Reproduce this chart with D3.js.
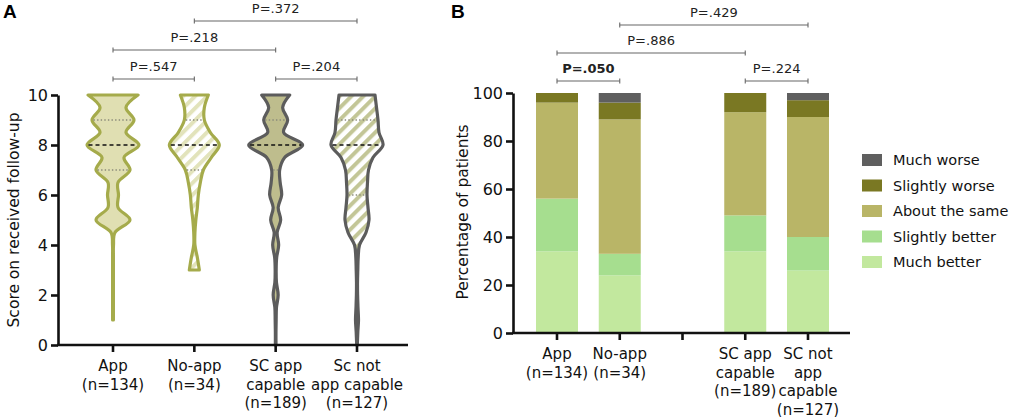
<!DOCTYPE html>
<html>
<head>
<meta charset="utf-8">
<script src="https://cdn.jsdelivr.net/npm/d3@7"></script>
<style>
  body { margin: 0; background: #fff; }
  svg { font-family: "DejaVu Sans", Verdana, sans-serif; }
</style>
</head>
<body>
<script>
// ---- data: panel A (violins) ----
var violinGroups = ["App", "No-app", "SC app capable", "Sc not app capable"];
var violinLabels = [["App", "(n=134)"], ["No-app", "(n=34)"], ["SC app", "capable", "(n=189)"], ["Sc not", "app capable", "(n=127)"]];
var scores = [0, 0.5, 1, 1.5, 2, 2.5, 3, 3.5, 4, 4.5, 5, 5.5, 6, 6.5, 7, 7.5, 8, 8.5, 9, 9.5, 10];
// half-width (relative density) of each violin at each score
var densApp    = [null, null, 0.4, 0.4, 0.4, 0.4, 0.4, 0.4, 0.5, 2, 17, 5, 5.5, 5, 17, 11, 26, 13, 21, 13, 25];
var densNoApp  = [null, null, null, null, null, null, 5, 3, 0.6, 0.6, 1.5, 3, 4, 6, 9, 17, 25, 16, 10, 10, 14];
var densScApp  = [0.3, 0.3, 0.5, 0.8, 2.5, 0.8, 0.5, 1, 3, 1.5, 5, 2.5, 6, 4.5, 4, 9, 27, 8, 12, 7, 14];
var densScNot  = [0.3, 0.8, 1.5, 1, 0.6, 0.5, 0.8, 1.2, 2.5, 9, 12, 11, 10, 10.5, 11.5, 16, 26, 22, 21, 19.5, 18];
var medians    = [8, 8, 8, 8];
var quartLow   = [7, 7, 7, 6];
var quartHigh  = [9, 9, 9, 9];
var scoreTicks = [0, 2, 4, 6, 8, 10];
var pairsA = [["App", "No-app", "P=.547", 0], ["SC app capable", "Sc not app capable", "P=.204", 0],
              ["App", "SC app capable", "P=.218", 1], ["No-app", "Sc not app capable", "P=.372", 2]];

// ---- data: panel B (stacked bars) ----
var barGroups = ["App", "No-app", "", "SC app capable", "SC not app capable"];
var barLabels = [["App", "(n=134)"], ["No-app", "(n=34)"], [], ["SC app", "capable", "(n=189)"], ["SC not", "app", "capable", "(n=127)"]];
var responses = ["Much better", "Slightly better", "About the same", "Slightly worse", "Much worse"];
var muchBetter     = [34, 24, 0, 34, 26];
var slightlyBetter = [22, 9, 0, 15, 14];
var aboutSame      = [40, 56, 0, 43, 50];
var slightlyWorse  = [4, 7, 0, 8, 7];
var muchWorse      = [0, 4, 0, 0, 3];
var pctTicks = [0, 20, 40, 60, 80, 100];
var pairsB = [["App", "No-app", "P=.050", 0, true], ["SC app capable", "SC not app capable", "P=.224", 0, false],
              ["App", "SC app capable", "P=.886", 1, false], ["No-app", "SC not app capable", "P=.429", 2, false]];

var svg = d3.select("body").append("svg").attr("width", 1026).attr("height", 417);

// patterns for hatched violins
var defs = svg.append("defs");
function stripes(id, col) {
    var p = defs.append("pattern").attr("id", id).attr("patternUnits", "userSpaceOnUse")
        .attr("width", 8.5).attr("height", 8.5).attr("patternTransform", "rotate(45)");
    p.append("rect").attr("width", 8.5).attr("height", 8.5).attr("fill", "#fff");
    p.append("rect").attr("width", 4).attr("height", 8.5).attr("fill", col);
}
stripes("hatchOlive", "#e2e3bb");
stripes("hatchGrey", "#c3c697");

function drawYAxis(g, scale, ticks) {
    var ax = g.call(d3.axisLeft(scale).tickValues(ticks).tickSize(7).tickSizeOuter(0).tickPadding(3));
    ax.select(".domain").attr("stroke", "#111").attr("stroke-width", 2.6);
    ax.selectAll(".tick line").attr("stroke", "#111").attr("stroke-width", 2.6);
    ax.selectAll(".tick text").attr("font-size", "16px").attr("fill", "#111").attr("font-family", "DejaVu Sans");
}
function drawXAxis(g, scale, labels, x0, x1) {
    g.append("line").attr("x1", x0).attr("x2", x1).attr("stroke", "#111").attr("stroke-width", 2.6);
    var t = g.selectAll(".tk").data(scale.domain()).join("g").attr("class", "tk")
        .attr("transform", function(d) { return "translate(" + scale(d) + ",0)"; });
    t.append("line").attr("y2", 7).attr("stroke", "#111").attr("stroke-width", 2.6);
    t.append("text").attr("text-anchor", "middle").attr("font-size", "15px").attr("fill", "#111")
        .selectAll("tspan").data(function(d, i) { return labels[i]; }).join("tspan")
        .attr("x", 0).attr("y", function(d, i) { return 26 + i * 18.5; }).text(function(d) { return d; });
}
function drawBrackets(g, scale, pairs, baseY, step) {
    pairs.forEach(function(p) {
        var x1 = scale(p[0]), x2 = scale(p[1]), y = baseY - p[3] * step;
        var b = g.append("g").attr("stroke", "#666").attr("stroke-width", 1.1);
        b.append("line").attr("x1", x1).attr("x2", x2).attr("y1", y).attr("y2", y);
        b.append("line").attr("x1", x1).attr("x2", x1).attr("y1", y - 2.5).attr("y2", y + 2.5);
        b.append("line").attr("x1", x2).attr("x2", x2).attr("y1", y - 2.5).attr("y2", y + 2.5);
        g.append("text").attr("x", (x1 + x2) / 2).attr("y", y - 8).attr("text-anchor", "middle")
            .attr("font-size", "13px").attr("fill", "#222")
            .attr("font-weight", p[4] ? "bold" : "normal").text(p[2]);
    });
}

// ================= Panel A =================
var yA = d3.scaleLinear().domain([0, 10]).range([345, 95]);
var xA = d3.scalePoint().domain(violinGroups).range([113, 357]);
var wA = d3.scaleLinear().domain([0, 27]).range([0, 27]);

var dens = [densApp, densNoApp, densScApp, densScNot];
var fills = ["#e0dfb2", "url(#hatchOlive)", "#bebd8d", "url(#hatchGrey)"];
var strokes = ["#a5ab4b", "#a5ab4b", "#5c5c5c", "#5c5c5c"];

var area = d3.area().curve(d3.curveCatmullRom.alpha(0.5))
    .y(function(d) { return yA(d.s); });

violinGroups.forEach(function(gname, i) {
    var cx = xA(gname);
    var pts = scores.map(function(s, k) { return { s: s, w: dens[i][k] }; })
        .filter(function(d) { return d.w != null; });
    area.x0(function(d) { return cx - wA(d.w); }).x1(function(d) { return cx + wA(d.w); });
    svg.append("path").attr("d", area(pts)).attr("fill", fills[i])
        .attr("stroke", strokes[i]).attr("stroke-width", 3.2).attr("stroke-linejoin", "round");
    function halfAt(v) { return wA(dens[i][scores.indexOf(v)]) - 1.5; }
    [[quartLow[i], "#8a8a7a", "1.4,2.2", 1.3], [quartHigh[i], "#8a8a7a", "1.4,2.2", 1.3], [medians[i], "#111", "4,3", 1.4]]
        .forEach(function(q) {
            svg.append("line").attr("x1", cx - halfAt(q[0])).attr("x2", cx + halfAt(q[0]))
                .attr("y1", yA(q[0])).attr("y2", yA(q[0]))
                .attr("stroke", q[1]).attr("stroke-dasharray", q[2]).attr("stroke-width", q[3]);
        });
});

drawYAxis(svg.append("g").attr("transform", "translate(58,0)"), yA, scoreTicks);
drawXAxis(svg.append("g").attr("transform", "translate(0,345)"), xA, violinLabels, 57, 408);
svg.append("text").attr("transform", "translate(14,220) rotate(-90)").attr("text-anchor", "middle")
    .attr("dy", "0.35em").attr("font-size", "15.5px").attr("fill", "#111").text("Score on received follow-up");
drawBrackets(svg.append("g"), xA, pairsA, 79, 29);
svg.append("text").attr("x", 3).attr("y", 18).attr("font-size", "19px").attr("font-weight", "bold")
    .attr("font-family", "Liberation Sans, Arial, sans-serif").text("A");

// ================= Panel B =================
var yB = d3.scaleLinear().domain([0, 100]).range([333, 93]);
var xB = d3.scalePoint().domain(barGroups).range([557, 808]);
var barColors = d3.scaleOrdinal().domain(responses)
    .range(["#c2e89e", "#a6de8f", "#b9b567", "#7a7823", "#5f5f5f"]);

var rows = barGroups.map(function(g, i) {
    return { group: g, "Much better": muchBetter[i], "Slightly better": slightlyBetter[i],
             "About the same": aboutSame[i], "Slightly worse": slightlyWorse[i], "Much worse": muchWorse[i] };
}).filter(function(r) { return r.group !== ""; });
var series = d3.stack().keys(responses)(rows);

svg.append("g").selectAll("g").data(series).join("g").attr("fill", function(d) { return barColors(d.key); })
    .selectAll("rect").data(function(d) { return d; }).join("rect")
    .attr("x", function(d) { return xB(d.data.group) - 21; }).attr("width", 42)
    .attr("y", function(d) { return yB(d[1]); })
    .attr("height", function(d) { return yB(d[0]) - yB(d[1]); });

drawYAxis(svg.append("g").attr("transform", "translate(513,0)"), yB, pctTicks);
drawXAxis(svg.append("g").attr("transform", "translate(0,333)"), xB, barLabels, 512, 850);
svg.append("text").attr("transform", "translate(463,212) rotate(-90)").attr("text-anchor", "middle")
    .attr("dy", "0.35em").attr("font-size", "15.5px").attr("fill", "#111").text("Percentage of patients");
drawBrackets(svg.append("g"), xB, pairsB, 81, 28);
svg.append("text").attr("x", 451).attr("y", 18).attr("font-size", "19px").attr("font-weight", "bold")
    .attr("font-family", "Liberation Sans, Arial, sans-serif").text("B");

// legend (top item first)
var legendOrder = responses.slice().reverse();
var lg = svg.append("g").selectAll("g").data(legendOrder).join("g")
    .attr("transform", function(d, i) { return "translate(862," + (160 + i * 25.5) + ")"; });
lg.append("rect").attr("y", -6).attr("width", 20).attr("height", 12).attr("fill", function(d) { return barColors(d); });
lg.append("text").attr("x", 31).attr("dy", "0.36em").attr("font-size", "14.5px").attr("fill", "#111")
    .text(function(d) { return d; });
</script>
</body>
</html>
